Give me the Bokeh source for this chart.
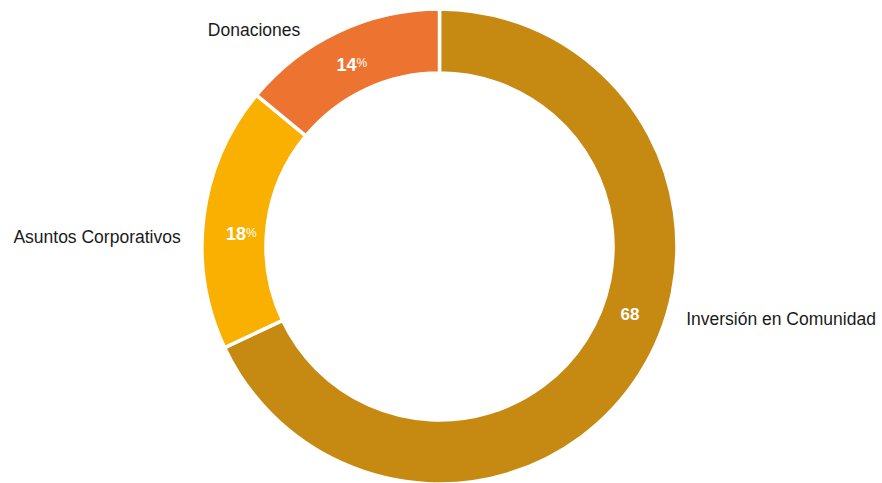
import math
from bokeh.plotting import figure
from bokeh.models import Range1d
from bokeh.core.properties import value
from bokeh.embed import file_html
from bokeh.resources import INLINE

# ---- data ----
categories = ["Inversión en Comunidad", "Asuntos Corporativos", "Donaciones"]
shares = [68, 18, 14]
value_labels = ["68", "18", "14"]
pct_suffix = ["", "%", "%"]
colors = ["#C68A12", "#F9B000", "#EC7430"]

# ---- layout (pixel space of figure) ----
W, H = 882, 483
FONT = "Liberation Sans"
cx, cy = 439, 237          # centre
R_OUT, R_IN = 237.5, 173.5
# label placement tweaks (degrees offset from mid-angle, radius)
inner_angle_shift = [13.0, 3.5, 0.8]
inner_r = [202, 200, 203]
outer_pos = [(-16.3, 257, "left"), (177.8, 259, "right"), (130.6, 285, "center")]

p = figure(width=W, height=H, output_backend="svg", toolbar_location=None,
           x_range=Range1d(0, W), y_range=Range1d(0, H), min_border=0,
           outline_line_color=None)
p.axis.visible = False
p.grid.visible = False
p.background_fill_color = "white"

total = sum(shares)
start = 90.0
starts, ends, mids = [], [], []
for s in shares:
    sweep = 360.0 * s / total
    starts.append(math.radians(start))
    ends.append(math.radians(start - sweep))
    mids.append(start - sweep / 2)
    start -= sweep

p.annular_wedge(x=cx, y=cy, inner_radius=R_IN, outer_radius=R_OUT,
                start_angle=starts, end_angle=ends, direction="clock",
                fill_color=colors, line_color="white", line_width=3.5)

for i, cat in enumerate(categories):
    a = math.radians(mids[i] + inner_angle_shift[i])
    lx = cx + inner_r[i] * math.cos(a)
    ly = cy + inner_r[i] * math.sin(a)
    if pct_suffix[i]:
        p.text(x=[lx + 6], y=[ly], text=[value_labels[i]], text_align="right",
               text_baseline="middle", text_color="white", text_font=value(FONT),
               text_font_style="bold", text_font_size="18px")
        p.text(x=[lx + 6], y=[ly + 1], text=[pct_suffix[i]], text_align="left",
               text_baseline="middle", text_color="white", text_font=value(FONT),
               text_font_size="12px")
    else:
        p.text(x=[lx], y=[ly], text=[value_labels[i]], text_align="center",
               text_baseline="middle", text_color="white", text_font=value(FONT),
               text_font_style="bold", text_font_size="17px")
    ang, rr, al = outer_pos[i]
    ox = cx + rr * math.cos(math.radians(ang))
    oy = cy + rr * math.sin(math.radians(ang))
    p.text(x=[ox], y=[oy], text=[cat], text_align=al, text_baseline="middle",
           text_color="#1a1a1a", text_font=value(FONT), text_font_size="17.5px")

open("out.html", "w").write(file_html(p, INLINE))
